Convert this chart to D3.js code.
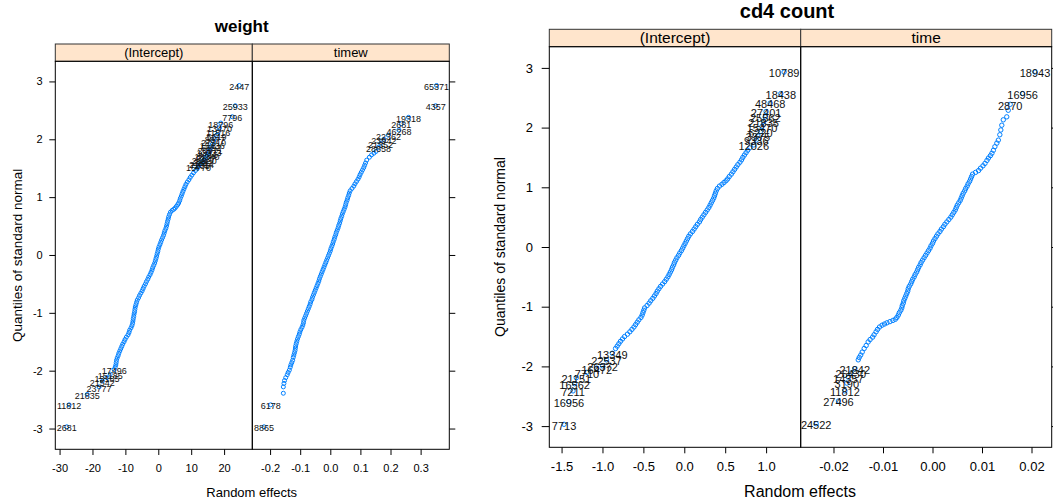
<!DOCTYPE html>
<html><head><meta charset="utf-8">
<script src="https://cdn.jsdelivr.net/npm/d3@7"></script>
<style>body{margin:0;background:#fff;} svg{display:block;font-family:"Liberation Sans",Arial,sans-serif;}</style>
</head><body><svg id="c" width="1053" height="501"></svg>
<script>
// ---------- data ----------
const chartTitles = ["weight", "cd4 count"];
const stripLabels = [["(Intercept)", "timew"], ["(Intercept)", "time"]];
const axisTitleX = "Random effects";
const axisTitleY = "Quantiles of standard normal";
const yTicks = [-3, -2, -1, 0, 1, 2, 3];
const weightInterceptTicks = [-30, -20, -10, 0, 10, 20];
const weightTimeTicks = [-0.2, -0.1, 0.0, 0.1, 0.2, 0.3];
const cd4InterceptTicks = [-1.5, -1.0, -0.5, 0.0, 0.5, 1.0];
const cd4TimeTicks = [-0.02, -0.01, 0.00, 0.01, 0.02];

// [quantile, random effect]
const weightInterceptPts = [[-1.94,-13.1],[-1.90,-12.9],[-1.86,-12.8],[-1.82,-12.7],[-1.78,-12.5],[-1.74,-12.2],[-1.70,-12.0],[-1.66,-11.7],[-1.62,-11.4],[-1.58,-11.1],[-1.54,-10.8],[-1.50,-10.4],[-1.46,-10.1],[-1.42,-9.7],[-1.38,-9.2],[-1.34,-8.9],[-1.30,-8.7],[-1.26,-8.3],[-1.22,-8.0],[-1.18,-7.8],[-1.14,-7.7],[-1.10,-7.6],[-1.06,-7.45],[-1.02,-7.35],[-0.98,-7.2],[-0.94,-7.1],[-0.90,-7.0],[-0.86,-6.8],[-0.82,-6.6],[-0.78,-6.4],[-0.74,-6.0],[-0.70,-5.7],[-0.66,-5.3],[-0.62,-4.9],[-0.58,-4.6],[-0.54,-4.3],[-0.50,-3.9],[-0.46,-3.6],[-0.42,-3.2],[-0.38,-2.9],[-0.34,-2.5],[-0.30,-2.2],[-0.26,-1.9],[-0.22,-1.7],[-0.18,-1.4],[-0.14,-1.1],[-0.10,-0.9],[-0.06,-0.7],[-0.02,-0.5],[0.02,-0.35],[0.06,-0.15],[0.10,0.0],[0.14,0.2],[0.18,0.5],[0.22,0.75],[0.26,1.0],[0.30,1.3],[0.34,1.6],[0.38,1.8],[0.42,2.0],[0.46,2.3],[0.50,2.5],[0.54,2.65],[0.58,2.8],[0.62,3.0],[0.66,3.15],[0.70,3.4],[0.74,3.7],[0.77,4.2],[0.79,4.7],[0.81,5.1],[0.84,5.5],[0.87,5.9],[0.90,6.2],[0.94,6.5],[0.98,6.7],[1.02,7.0],[1.06,7.25],[1.10,7.5],[1.14,7.8],[1.18,8.1],[1.22,8.4],[1.26,8.8],[1.30,9.3],[1.34,9.7],[1.38,10.2],[1.42,10.7],[1.46,11.3],[1.50,11.9]];
// [quantile, random effect, id]
const weightInterceptLab = [[-2.97,-27.8,"2681"],[-2.59,-27.1,"11812"],[-2.41,-21.6,"21835"],[-2.28,-18.0,"23777"],[-2.18,-17.0,"21542"],[-2.12,-15.6,"13185"],[-2.06,-14.6,"15185"],[-1.98,-13.4,"17496"],[1.53,12.2,"15770"],[1.56,12.6,"7235"],[1.59,13.1,"21014"],[1.62,13.6,"3882"],[1.65,14.0,"26530"],[1.68,14.4,"9127"],[1.72,14.8,"18240"],[1.75,15.1,"4716"],[1.79,15.4,"12333"],[1.83,15.7,"20971"],[1.87,16.0,"6592"],[1.91,16.4,"15436"],[1.96,16.8,"27310"],[2.01,17.2,"8877"],[2.07,17.7,"5619"],[2.13,18.2,"11816"],[2.20,18.6,"13470"],[2.28,19.0,"18796"],[2.39,22.5,"7796"],[2.58,23.4,"25933"],[2.93,24.6,"2447"]];

const weightTimePts = [[-2.39,-0.156],[-2.28,-0.156],[-2.22,-0.154],[-2.17,-0.152],[-2.12,-0.148],[-2.07,-0.143],[-2.03,-0.140],[-1.99,-0.136],[-1.94,-0.133],[-1.90,-0.131],[-1.86,-0.128],[-1.82,-0.125],[-1.77,-0.123],[-1.73,-0.121],[-1.69,-0.119],[-1.65,-0.117],[-1.61,-0.116],[-1.57,-0.115],[-1.53,-0.113],[-1.49,-0.111],[-1.45,-0.109],[-1.41,-0.106],[-1.37,-0.103],[-1.33,-0.101],[-1.29,-0.098],[-1.25,-0.094],[-1.21,-0.091],[-1.17,-0.089],[-1.13,-0.088],[-1.09,-0.085],[-1.05,-0.082],[-1.01,-0.079],[-0.97,-0.076],[-0.93,-0.073],[-0.89,-0.070],[-0.85,-0.067],[-0.81,-0.065],[-0.77,-0.061],[-0.73,-0.059],[-0.69,-0.056],[-0.65,-0.053],[-0.61,-0.050],[-0.57,-0.047],[-0.53,-0.044],[-0.49,-0.041],[-0.45,-0.038],[-0.41,-0.036],[-0.37,-0.033],[-0.33,-0.030],[-0.29,-0.027],[-0.25,-0.024],[-0.21,-0.021],[-0.17,-0.018],[-0.13,-0.015],[-0.09,-0.012],[-0.05,-0.009],[-0.01,-0.006],[0.03,-0.003],[0.07,0.000],[0.11,0.002],[0.15,0.005],[0.19,0.008],[0.23,0.010],[0.27,0.013],[0.31,0.015],[0.35,0.018],[0.39,0.020],[0.43,0.023],[0.47,0.026],[0.51,0.028],[0.55,0.031],[0.59,0.033],[0.63,0.035],[0.67,0.038],[0.71,0.040],[0.75,0.043],[0.79,0.046],[0.83,0.049],[0.87,0.051],[0.91,0.053],[0.95,0.056],[0.99,0.058],[1.03,0.061],[1.07,0.063],[1.11,0.066],[1.15,0.072],[1.19,0.078],[1.23,0.082],[1.27,0.087],[1.31,0.092],[1.35,0.096],[1.39,0.099],[1.43,0.103],[1.47,0.107],[1.51,0.111],[1.55,0.114],[1.59,0.117],[1.64,0.121],[1.69,0.130],[1.73,0.137],[1.76,0.145],[1.79,0.152]];
const weightTimeLab = [[-2.97,-0.220,"8865"],[-2.59,-0.198,"6178"],[1.86,0.160,"28658"],[1.93,0.167,"21352"],[2.00,0.178,"23942"],[2.07,0.193,"22362"],[2.16,0.228,"46268"],[2.27,0.236,"2681"],[2.38,0.260,"19318"],[2.58,0.350,"4357"],[2.93,0.353,"65371"]];

const cd4InterceptPts = [[-1.70,-0.84],[-1.66,-0.82],[-1.62,-0.80],[-1.58,-0.78],[-1.54,-0.755],[-1.50,-0.73],[-1.46,-0.695],[-1.42,-0.665],[-1.38,-0.64],[-1.34,-0.615],[-1.30,-0.595],[-1.26,-0.575],[-1.22,-0.555],[-1.18,-0.53],[-1.14,-0.515],[-1.10,-0.505],[-1.06,-0.495],[-1.02,-0.485],[-0.98,-0.455],[-0.94,-0.43],[-0.90,-0.41],[-0.86,-0.385],[-0.82,-0.365],[-0.78,-0.345],[-0.74,-0.33],[-0.70,-0.31],[-0.66,-0.29],[-0.62,-0.265],[-0.58,-0.24],[-0.54,-0.22],[-0.50,-0.20],[-0.46,-0.185],[-0.42,-0.17],[-0.38,-0.155],[-0.34,-0.145],[-0.30,-0.13],[-0.26,-0.12],[-0.22,-0.105],[-0.18,-0.09],[-0.14,-0.07],[-0.10,-0.055],[-0.06,-0.035],[-0.02,-0.02],[0.02,-0.005],[0.06,0.01],[0.10,0.025],[0.14,0.04],[0.18,0.055],[0.22,0.075],[0.26,0.10],[0.30,0.12],[0.34,0.14],[0.38,0.16],[0.42,0.185],[0.46,0.20],[0.50,0.22],[0.54,0.24],[0.58,0.26],[0.62,0.28],[0.66,0.30],[0.70,0.315],[0.74,0.33],[0.78,0.345],[0.82,0.36],[0.86,0.37],[0.90,0.38],[0.94,0.39],[0.98,0.405],[1.02,0.43],[1.05,0.46],[1.08,0.485],[1.11,0.51],[1.14,0.53],[1.18,0.55],[1.22,0.575],[1.26,0.595],[1.30,0.615],[1.34,0.635],[1.38,0.655],[1.42,0.68],[1.46,0.70],[1.50,0.715],[1.54,0.735],[1.58,0.755],[1.62,0.775],[1.66,0.80]];
const cd4InterceptLab = [[-2.97,-1.47,"7713"],[-2.59,-1.41,"16956"],[-2.41,-1.36,"7211"],[-2.29,-1.34,"16562"],[-2.19,-1.32,"21151"],[-2.10,-1.19,"7710"],[-2.03,-1.07,"16472"],[-1.99,-1.00,"26372"],[-1.89,-0.95,"22537"],[-1.78,-0.88,"13349"],[1.71,0.85,"12026"],[1.79,0.88,"9336"],[1.86,0.90,"3375"],[1.93,0.93,"6220"],[2.02,0.95,"15470"],[2.10,0.97,"21835"],[2.18,0.99,"25562"],[2.27,1.00,"27401"],[2.41,1.05,"48468"],[2.57,1.18,"18438"],[2.93,1.22,"10789"]];

const cd4TimePts = [[-1.89,-0.0150],[-1.85,-0.0148],[-1.81,-0.0145],[-1.76,-0.0142],[-1.70,-0.0138],[-1.65,-0.0134],[-1.59,-0.0130],[-1.55,-0.0126],[-1.51,-0.0121],[-1.47,-0.0118],[-1.42,-0.0114],[-1.38,-0.0111],[-1.34,-0.0107],[-1.31,-0.0102],[-1.29,-0.0097],[-1.27,-0.0092],[-1.25,-0.0086],[-1.23,-0.0080],[-1.21,-0.0075],[-1.18,-0.0072],[-1.14,-0.0069],[-1.10,-0.0067],[-1.06,-0.0064],[-1.02,-0.0062],[-0.98,-0.0061],[-0.94,-0.0059],[-0.90,-0.0058],[-0.86,-0.0056],[-0.82,-0.0054],[-0.78,-0.0052],[-0.74,-0.0050],[-0.70,-0.0049],[-0.66,-0.0047],[-0.62,-0.0044],[-0.58,-0.0042],[-0.54,-0.0040],[-0.50,-0.0037],[-0.46,-0.0035],[-0.42,-0.0032],[-0.38,-0.0030],[-0.34,-0.0028],[-0.30,-0.0025],[-0.26,-0.0023],[-0.22,-0.0020],[-0.18,-0.0017],[-0.14,-0.0014],[-0.10,-0.0011],[-0.06,-0.0008],[-0.02,-0.0005],[0.02,-0.0003],[0.06,0.0000],[0.10,0.0002],[0.14,0.0005],[0.18,0.0008],[0.22,0.0011],[0.26,0.0015],[0.30,0.0018],[0.34,0.0022],[0.38,0.0025],[0.42,0.0029],[0.46,0.0033],[0.50,0.0037],[0.54,0.0040],[0.58,0.0043],[0.62,0.0046],[0.66,0.0048],[0.70,0.0050],[0.74,0.0053],[0.78,0.0056],[0.82,0.0058],[0.86,0.0060],[0.90,0.0062],[0.94,0.0065],[0.98,0.0067],[1.02,0.0070],[1.06,0.0072],[1.10,0.0075],[1.14,0.0077],[1.18,0.0079],[1.22,0.0081],[1.25,0.0087],[1.28,0.0093],[1.32,0.0097],[1.36,0.0102],[1.40,0.0106],[1.45,0.0110],[1.49,0.0113],[1.53,0.0117],[1.57,0.0120],[1.62,0.0123],[1.68,0.0126],[1.74,0.0130],[1.79,0.0133],[1.88,0.0136],[1.96,0.0138],[2.04,0.0140],[2.13,0.0143],[2.18,0.0150],[2.29,0.0153]];
const cd4TimeLab = [[-2.96,-0.0235,"24522"],[-2.58,-0.0190,"27496"],[-2.41,-0.0177,"11812"],[-2.28,-0.0173,"3190"],[-2.18,-0.0170,"14357"],[-2.11,-0.0165,"26430"],[-2.04,-0.0157,"21842"],[2.39,0.0157,"2870"],[2.57,0.0182,"16956"],[2.93,0.0207,"18943"]];

// ---------- layout (positions / styles) ----------
const svg = d3.select("#c");
const BLUE = "#0080ff";
const fmtD = d => String(d);
const fmt1 = d => d.toFixed(1);
const fmt2 = d => d.toFixed(2);

const charts = [
  { title: chartTitles[0], titleX: 241.7, titleY: 31.5, titleSize: 17,
    left: 55.3, mid: 252.3, right: 449.3, top: 61.3, bottom: 449.3, stripTop: 44,
    yDomain: [-3.359, 3.348], tickFont: 11, stripFont: 13, labFont: 9, r: 2.0,
    yTick: 6, yPad: 6.6, xTick: 5.7, xPad: 8.8,
    yTitleX: 17, yTitleFont: 13.5, xTitleX: 251.7, xTitleY: 496.5, xTitleFont: 13,
    panels: [
      { strip: stripLabels[0][0], domain: [-31.3, 28.57], ticks: weightInterceptTicks, fmt: fmtD, pts: weightInterceptPts, lab: weightInterceptLab },
      { strip: stripLabels[0][1], domain: [-0.2591, 0.3953], ticks: weightTimeTicks, fmt: fmt1, pts: weightTimePts, lab: weightTimeLab }
    ]},
  { title: chartTitles[1], titleX: 787, titleY: 17.5, titleSize: 20,
    left: 549.3, mid: 800.7, right: 1051.7, top: 46.7, bottom: 447.3, stripTop: 29.3,
    yDomain: [-3.355, 3.355], tickFont: 13, stripFont: 15.5, labFont: 11, r: 2.2,
    yTick: 7.6, yPad: 8.7, xTick: 6, xPad: 8.9,
    yTitleX: 500, yTitleFont: 14, xTitleX: 800, xTitleY: 497, xTitleFont: 16,
    panels: [
      { strip: stripLabels[1][0], domain: [-1.650, 1.423], ticks: cd4InterceptTicks, fmt: fmt1, pts: cd4InterceptPts, lab: cd4InterceptLab },
      { strip: stripLabels[1][1], domain: [-0.026626, 0.02408], ticks: cd4TimeTicks, fmt: fmt2, pts: cd4TimePts, lab: cd4TimeLab }
    ]}
];

charts.forEach(c => {
  const g = svg.append("g");
  const y = d3.scaleLinear().domain(c.yDomain).range([c.bottom, c.top]);
  const bounds = [[c.left, c.mid], [c.mid, c.right]];

  c.panels.forEach((p, i) => {
    const [x0, x1] = bounds[i];
    const x = d3.scaleLinear().domain(p.domain).range([x0, x1]);
    // strip
    g.append("rect").attr("x", x0).attr("y", c.stripTop).attr("width", x1 - x0).attr("height", c.top - c.stripTop)
      .attr("fill", "#ffe5cc").attr("stroke", "#333").attr("stroke-width", 1);
    g.append("text").attr("x", (x0 + x1) / 2).attr("y", (c.stripTop + c.top) / 2).attr("dy", "0.35em")
      .attr("text-anchor", "middle").attr("font-size", c.stripFont).attr("fill", "#000").text(p.strip);
    // points
    const clipId = "clip" + Math.round(c.left) + "_" + i;
    g.append("clipPath").attr("id", clipId).append("rect").attr("x", x0).attr("y", c.top).attr("width", x1 - x0).attr("height", c.bottom - c.top);
    const pg = g.append("g").attr("clip-path", `url(#${clipId})`);
    pg.selectAll("circle").data(p.pts.concat(p.lab)).join("circle")
      .attr("cx", d => x(d[1])).attr("cy", d => y(d[0])).attr("r", c.r)
      .attr("fill", "none").attr("stroke", BLUE).attr("stroke-width", 1);
    pg.selectAll("text").data(p.lab).join("text")
      .attr("x", d => x(d[1])).attr("y", d => y(d[0]) + 1.5).attr("dy", "0.35em")
      .attr("text-anchor", "middle").attr("font-size", c.labFont).attr("fill", "#111").text(d => d[2]);
    // x axis
    const ax = g.append("g").attr("transform", `translate(0,${c.bottom})`)
      .call(d3.axisBottom(x).tickValues(p.ticks).tickFormat(p.fmt).tickSize(c.xTick).tickPadding(c.xPad).tickSizeOuter(0));
    ax.select(".domain").remove();
    ax.selectAll("line").attr("stroke", "#000");
    ax.selectAll("text").attr("font-size", c.tickFont).attr("fill", "#000").attr("font-family", "Liberation Sans, Arial, sans-serif");
    // panel border
    g.append("rect").attr("x", x0).attr("y", c.top).attr("width", x1 - x0).attr("height", c.bottom - c.top)
      .attr("fill", "none").attr("stroke", "#000").attr("stroke-width", 1);
  });

  // y axes
  const ay = g.append("g").attr("transform", `translate(${c.left},0)`)
    .call(d3.axisLeft(y).tickValues(yTicks).tickFormat(fmtD).tickSize(c.yTick).tickPadding(c.yPad).tickSizeOuter(0));
  ay.select(".domain").remove();
  ay.selectAll("line").attr("stroke", "#000");
  ay.selectAll("text").attr("font-size", c.tickFont).attr("fill", "#000").attr("font-family", "Liberation Sans, Arial, sans-serif");
  const ayr = g.append("g").attr("transform", `translate(${c.right},0)`)
    .call(d3.axisRight(y).tickValues(yTicks).tickFormat("").tickSize(c.yTick).tickSizeOuter(0));
  ayr.select(".domain").remove();
  ayr.selectAll("line").attr("stroke", "#000");

  // titles
  g.append("text").attr("x", c.titleX).attr("y", c.titleY).attr("text-anchor", "middle")
    .attr("font-size", c.titleSize).attr("font-weight", "bold").attr("fill", "#000").text(c.title);
  g.append("text").attr("x", c.xTitleX).attr("y", c.xTitleY).attr("text-anchor", "middle")
    .attr("font-size", c.xTitleFont).attr("fill", "#000").text(axisTitleX);
  const cy = (c.top + c.bottom) / 2;
  g.append("text").attr("transform", `translate(${c.yTitleX},${cy}) rotate(-90)`).attr("dy", "0.35em")
    .attr("text-anchor", "middle").attr("font-size", c.yTitleFont).attr("fill", "#000").text(axisTitleY);
});
</script></body></html>
